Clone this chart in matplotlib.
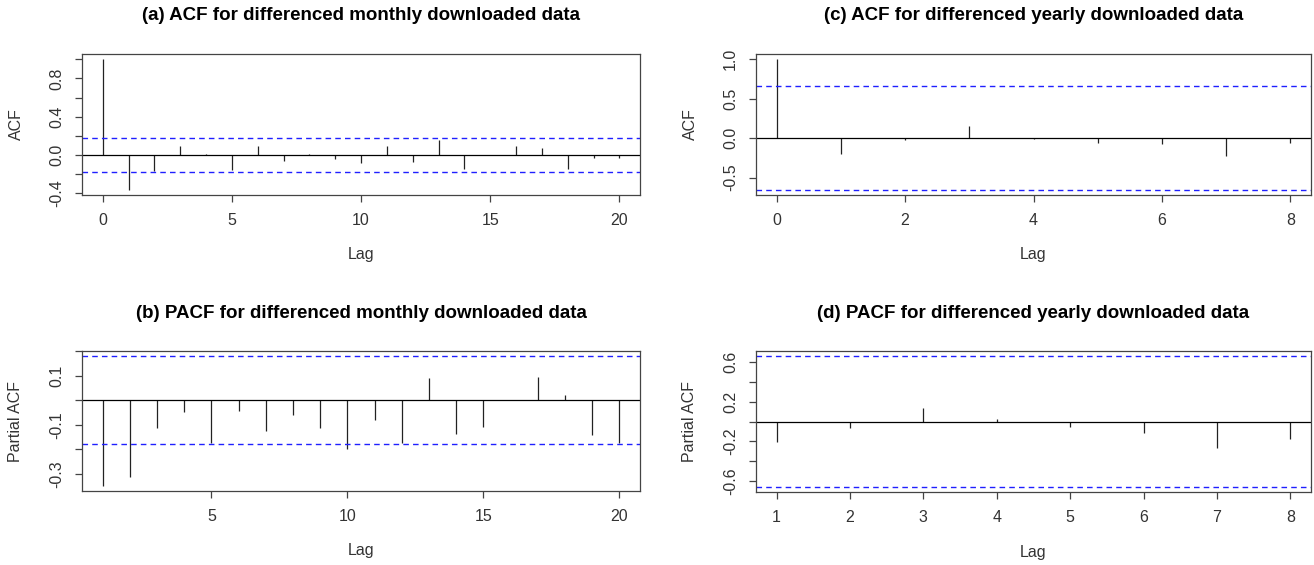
import numpy as np
import matplotlib
matplotlib.use("Agg")
import matplotlib.pyplot as plt

plt.rcParams['font.family'] = ['Liberation Sans', 'DejaVu Sans']

W, H = 1314, 565

# ACF / PACF values
acf_month_lag = list(range(0, 21))
acf_month = [1.0, -0.362, -0.163, 0.097, 0.01, -0.153, 0.097, -0.06, 0.01, -0.04,
             -0.083, 0.09, -0.07, 0.157, -0.146, 0.004, 0.097, 0.073, -0.146, -0.035, -0.035]
pacf_month_lag = list(range(1, 21))
pacf_month = [-0.349, -0.312, -0.115, -0.049, -0.173, -0.045, -0.126, -0.058, -0.115, -0.2,
              -0.081, -0.173, 0.089, -0.138, -0.108, 0.002, 0.097, 0.02, -0.143, -0.173]
conf_month = 0.18

acf_year_lag = list(range(0, 9))
acf_year = [1.0, -0.196, -0.02, 0.153, -0.015, -0.064, -0.072, -0.221, -0.068]
pacf_year_lag = list(range(1, 9))
pacf_year = [-0.203, -0.07, 0.133, 0.023, -0.06, -0.12, -0.27, -0.173]
conf_year = 0.655

titles = ["(a) ACF for differenced monthly downloaded data",
          "(b) PACF for differenced monthly downloaded data",
          "(c) ACF for differenced yearly downloaded data",
          "(d) PACF for differenced yearly downloaded data"]

TXT = '#333333'
FS = 11.5


def px_axes(fig, left, right, top, bottom):
    return fig.add_axes([left / W, (H - bottom) / H, (right - left) / W, (bottom - top) / H])


def acf_panel(fig, box, lags, vals, conf, ylabel, title, xticks, yticks, ylabels):
    left, right, top, bottom = box
    ax = px_axes(fig, left, right, top, bottom)
    lags = np.array(lags)
    vals = np.array(vals)
    ax.vlines(lags, 0, vals, color='#222222', lw=0.9)
    ax.axhline(0, color='black', lw=0.9)
    ax.axhline(conf, color='#2020ff', lw=1.0, ls=(0, (4, 3)))
    ax.axhline(-conf, color='#2020ff', lw=1.0, ls=(0, (4, 3)))
    # R style 4% padding
    xr = lags.max() - lags.min()
    ax.set_xlim(lags.min() - 0.04 * xr, lags.max() + 0.04 * xr)
    lo = min(vals.min(), -conf)
    hi = max(vals.max(), conf)
    yr = hi - lo
    ax.set_ylim(lo - 0.04 * yr, hi + 0.04 * yr)
    ax.set_xticks(xticks)
    ax.set_xticklabels([str(t) for t in xticks], fontsize=FS, color=TXT)
    ax.set_yticks(yticks)
    ax.set_yticklabels(ylabels, fontsize=FS, color=TXT, rotation=90, va='center')
    ax.tick_params(length=5, width=0.9, color='#444444', pad=8)
    for s in ax.spines.values():
        s.set_color('#444444')
        s.set_linewidth(0.9)
    cx = (left + right) / 2
    fig.text(cx / W, 1 - (top - 38) / H, title, ha='center', va='center',
             fontsize=13.5, fontweight='bold', color='black')
    fig.text(cx / W, 1 - (bottom + 60) / H, 'Lag', ha='center', va='center',
             fontsize=FS, color=TXT)
    fig.text((left - 66) / W, 1 - ((top + bottom) / 2) / H, ylabel, ha='center',
             va='center', rotation=90, fontsize=FS, color=TXT)
    return ax


fig = plt.figure(figsize=(W / 100, H / 100), dpi=100)

acf_panel(fig, (82, 640, 54, 195), acf_month_lag, acf_month, conf_month, 'ACF', titles[0],
          [0, 5, 10, 15, 20], [-0.4, -0.2, 0.0, 0.2, 0.4, 0.6, 0.8, 1.0],
          ['-0.4', '', '0.0', '', '0.4', '', '0.8', ''])
acf_panel(fig, (82, 640, 351, 491), pacf_month_lag, pacf_month, conf_month, 'Partial ACF', titles[1],
          [5, 10, 15, 20], [-0.3, -0.2, -0.1, 0.0, 0.1, 0.2],
          ['-0.3', '', '-0.1', '', '0.1', ''])
acf_panel(fig, (756, 1311, 54, 195), acf_year_lag, acf_year, conf_year, 'ACF', titles[2],
          [0, 2, 4, 6, 8], [-0.5, 0.0, 0.5, 1.0],
          ['-0.5', '0.0', '0.5', '1.0'])
acf_panel(fig, (756, 1311, 351, 492), pacf_year_lag, pacf_year, conf_year, 'Partial ACF', titles[3],
          [1, 2, 3, 4, 5, 6, 7, 8], [-0.6, -0.4, -0.2, 0.0, 0.2, 0.4, 0.6],
          ['-0.6', '', '-0.2', '', '0.2', '', '0.6'])

fig.savefig('out.png', dpi=100)
